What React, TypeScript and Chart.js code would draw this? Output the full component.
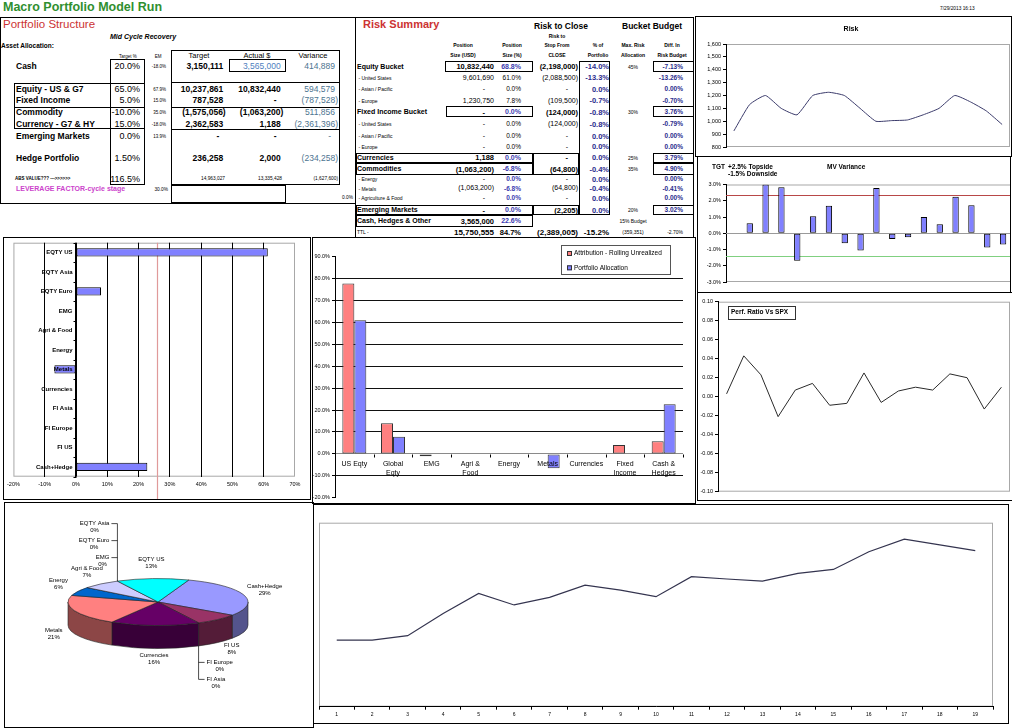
import React, { useEffect, useRef } from 'react';
import { Chart, registerables } from 'chart.js';
Chart.register(...registerables);

const FONT = '"Liberation Sans", Arial, Helvetica, sans-serif';
Chart.defaults.font.family = FONT;
Chart.defaults.color = '#000';

// ---------------- data ----------------
const RISK_VALUES = [925, 1130, 1200, 1100, 1050, 1200, 1225, 1200, 1100, 1000, 1005, 1010, 1050, 1100, 1200, 1150, 1080, 975];
const MV_VALUES: (number | null)[] = [null, 0.62, 3.0, 2.83, -1.69, 1.04, 1.69, -0.62, -1.06, 2.79, -0.35, -0.25, 1.0, 0.56, 2.25, 1.73, -0.87, -0.69];
const MV_TOPSIDE = 2.35;
const MV_DOWNSIDE = -1.42;
const PERF_VALUES = [0.003, 0.043, 0.023, -0.021, 0.007, 0.014, -0.009, -0.007, 0.025, -0.006, 0.006, 0.01, 0.007, 0.024, 0.02, -0.013, 0.01];
const HBAR_CATS = ['EQTY US', 'EQTY Asia', 'EQTY Euro', 'EMG', 'Agri & Food', 'Energy', 'Metals', 'Currencies', 'FI Asia', 'FI Europe', 'FI US', 'Cash+Hedge'];
const HBAR_VALUES = [61.3, 0, 8.0, 0, 0, 0, -6.9, 0, 0, 0, 0, 22.8];
const HBAR_REF = 26;
const GROUP_CATS = [['US Eqty'], ['Global', 'Eqty'], ['EMG'], ['Agri &', 'Food'], ['Energy'], ['Metals'], ['Currencies'], ['Fixed', 'Income'], ['Cash &', 'Hedges']];
const ATTRIB = [77.8, 14.0, -1.1, 0, 0, -0.3, 0, 4.0, 5.8];
const ALLOC = [61.0, 7.8, 0, 0, 0, -6.6, 0, 0, 22.7];
const PIE_LABELS = ['Cash+Hedge', 'FI US', 'FI Europe', 'FI Asia', 'Currencies', 'Metals', 'Energy', 'Agri & Food', 'EMG', 'EQTY Euro', 'EQTY Asia', 'EQTY US'];
const PIE_VALUES = [29, 8, 0, 0, 16, 21, 6, 7, 0, 0, 0, 13];
const TREND_VALUES = [36.2, 36.2, 38.6, 50.7, 61.6, 55.3, 59.4, 66.1, 63.4, 59.8, 70.7, 69.4, 68.3, 72.5, 74.6, 84.2, 91.1, 87.9, 84.8];

const STRUCT_LABELS = ['Cash', 'Equity - US & G7', 'Fixed Income', 'Commodity', 'Currency - G7 & HY', 'Emerging Markets', 'Hedge Portfolio'];
const STRUCT_TARGET_PCT = ['20.0%', '65.0%', '5.0%', '-10.0%', '15.0%', '0.0%', '1.50%'];
const STRUCT_EM = ['-18.0%', '67.9%', '15.0%', '35.0%', '-18.0%', '13.9%', ''];
const STRUCT_TARGET = ['3,150,111', '10,237,861', '787,528', '(1,575,056)', '2,362,583', '-', '236,258'];
const STRUCT_ACTUAL = ['3,565,000', '10,832,440', '-', '(1,063,200)', '1,188', '-', '2,000'];
const STRUCT_VARIANCE = ['414,889', '594,579', '(787,528)', '511,856', '(2,361,396)', '-', '(234,258)'];
const STRUCT_TOTALS = ['14,963,027', '13,335,428', '(1,627,600)'];

const RS_LABELS = ['Equity Bucket', ' - United States', ' - Asian / Pacific', ' - Europe', 'Fixed Income Bucket', ' - United States', ' - Asian / Pacific', ' - Europe', 'Currencies', 'Commodities', ' - Energy', ' - Metals', ' - Agriculture & Food', 'Emerging Markets', 'Cash, Hedges & Other', 'TTL -'];
const RS_SIZE_USD = ['10,832,440', '9,601,690', '-', '1,230,750', '-', '-', '-', '-', '1,188', '(1,063,200)', '-', '(1,063,200)', '-', '-', '3,565,000', '15,750,555'];
const RS_SIZE_PCT = ['68.8%', '61.0%', '0.0%', '7.8%', '0.0%', '0.0%', '0.0%', '0.0%', '0.0%', '-6.8%', '0.0%', '-6.8%', '0.0%', '0.0%', '22.6%', '84.7%'];
const RS_STOP = ['(2,198,000)', '(2,088,500)', '-', '(109,500)', '(124,000)', '(124,000)', '-', '-', '-', '(64,800)', '-', '(64,800)', '-', '(2,205)', '', '(2,389,005)'];
const RS_PCT_PORT = ['-14.0%', '-13.3%', '0.0%', '-0.7%', '-0.8%', '-0.8%', '0.0%', '0.0%', '0.0%', '-0.4%', '0.0%', '-0.4%', '0.0%', '0.0%', '', '-15.2%'];
const RS_MAX_RISK = ['45%', '', '', '', '30%', '', '', '', '25%', '35%', '', '', '', '20%', '15% Budget', '(359,351)'];
const RS_DIFF = ['-7.13%', '-13.26%', '0.00%', '-0.70%', '3.76%', '-0.79%', '0.00%', '0.00%', '3.79%', '4.90%', '0.00%', '-0.41%', '0.00%', '3.02%', '', '-2.70%'];

// ---------------- layout / style ----------------
const PIE_COLORS = ['#9999FF', '#993366', '#FFFFCC', '#CCFFFF', '#660066', '#FF8080', '#0066CC', '#CCCCFF', '#000080', '#FF00FF', '#FFFF00', '#00FFFF'];
const STRUCT_ROW_Y = [66, 89, 100, 112, 124, 136, 158];
const RS_ROW_Y = [66.7, 77.7, 89.3, 100.7, 112.3, 124.3, 136, 146.7, 157.7, 169, 179, 188.5, 198, 210, 221, 232.3];
const PIE_SQUASH = 0.26;
const PIE_DEPTH = 23;

const tf = (size: number, bold = false) => ({ family: FONT, size, weight: bold ? 'bold' : 'normal' });

const base = (pad: any) => ({
  animation: false,
  responsive: false,
  maintainAspectRatio: false,
  events: [],
  layout: { padding: pad },
  plugins: { legend: { display: false }, tooltip: { enabled: false }, title: { display: false } },
});

// ---------------- plugins ----------------
const framePlugin = (color: string) => ({
  id: 'frame',
  beforeDraw(chart: any) {
    const { ctx, chartArea: a } = chart;
    ctx.save();
    ctx.strokeStyle = color;
    ctx.lineWidth = 1;
    ctx.strokeRect(a.left + 0.5, a.top + 0.5, a.right - a.left - 1, a.bottom - a.top - 1);
    ctx.restore();
  },
});

type TextItem = { text: string; x: number; y: number; size: number; bold?: boolean; align?: CanvasTextAlign; color?: string };
const textPlugin = (items: TextItem[]) => ({
  id: 'texts',
  afterDraw(chart: any) {
    const ctx = chart.ctx;
    ctx.save();
    ctx.textBaseline = 'middle';
    items.forEach((t) => {
      ctx.font = `${t.bold ? 'bold ' : ''}${t.size}px ${FONT}`;
      ctx.fillStyle = t.color || '#000';
      ctx.textAlign = t.align || 'left';
      ctx.fillText(t.text, t.x, t.y);
    });
    ctx.restore();
  },
});

const hLinesPlugin = (lines: { value: number; color: string }[]) => ({
  id: 'hlines',
  beforeDatasetsDraw(chart: any) {
    const { ctx, chartArea: a, scales } = chart;
    ctx.save();
    ctx.lineWidth = 1.2;
    lines.forEach((l) => {
      const py = Math.round(scales.y.getPixelForValue(l.value)) + 0.5;
      ctx.strokeStyle = l.color;
      ctx.beginPath();
      ctx.moveTo(a.left, py);
      ctx.lineTo(a.right, py);
      ctx.stroke();
    });
    ctx.restore();
  },
});

const hbarAxisPlugin = {
  id: 'hbarAxis',
  beforeDatasetsDraw(chart: any) {
    const { ctx, chartArea: a, scales } = chart;
    const x0 = Math.round(scales.x.getPixelForValue(0)) + 0.5;
    const xr = Math.round(scales.x.getPixelForValue(HBAR_REF)) + 0.5;
    ctx.save();
    ctx.strokeStyle = '#e09a9a';
    ctx.lineWidth = 1.2;
    ctx.beginPath();
    ctx.moveTo(xr, a.top);
    ctx.lineTo(xr, chart.height);
    ctx.stroke();
    ctx.strokeStyle = '#000';
    ctx.lineWidth = 1;
    ctx.beginPath();
    ctx.moveTo(x0, a.top);
    ctx.lineTo(x0, a.bottom);
    const n = chart.data.labels.length;
    const step = (a.bottom - a.top) / n;
    for (let i = 0; i <= n; i++) {
      const py = Math.round(a.top + i * step) + 0.5;
      ctx.moveTo(x0 - 3, py);
      ctx.lineTo(x0, py);
    }
    ctx.stroke();
    ctx.restore();
  },
  afterDatasetsDraw(chart: any) {
    const { ctx, scales } = chart;
    const x0 = Math.round(scales.x.getPixelForValue(0)) + 0.5;
    ctx.save();
    ctx.font = `bold 6px ${FONT}`;
    ctx.fillStyle = '#000';
    ctx.textAlign = 'right';
    ctx.textBaseline = 'middle';
    chart.data.labels.forEach((l: string, i: number) => {
      ctx.fillText(l, x0 - 4, scales.y.getPixelForValue(i));
    });
    ctx.restore();
  },
};

const groupAxisPlugin = {
  id: 'groupAxis',
  beforeDatasetsDraw(chart: any) {
    const { ctx, chartArea: a, scales } = chart;
    const y0 = Math.round(scales.y.getPixelForValue(0)) + 0.5;
    ctx.save();
    ctx.strokeStyle = '#000';
    ctx.lineWidth = 1;
    const n = GROUP_CATS.length;
    const step = (a.right - a.left) / n;
    ctx.beginPath();
    for (let i = 0; i <= n; i++) {
      const px = Math.round(a.left + i * step) + 0.5;
      ctx.moveTo(px, y0);
      ctx.lineTo(px, y0 + 3);
    }
    ctx.stroke();
    ctx.restore();
  },
  afterDatasetsDraw(chart: any) {
    const { ctx, scales } = chart;
    const y0 = Math.round(scales.y.getPixelForValue(0)) + 0.5;
    ctx.save();
    ctx.font = `7px ${FONT}`;
    ctx.fillStyle = '#000';
    ctx.textAlign = 'center';
    ctx.textBaseline = 'middle';
    GROUP_CATS.forEach((lines, i) => {
      const px = scales.x.getPixelForValue(i);
      lines.forEach((t, k) => ctx.fillText(t, px, y0 + 10 + k * 8.5));
    });
    ctx.restore();
  },
};

const groupLegendPlugin = {
  id: 'groupLegend',
  afterDraw(chart: any) {
    const ctx = chart.ctx;
    const x = 249, y = 8, w = 109, h = 29;
    ctx.save();
    ctx.fillStyle = '#fff';
    ctx.fillRect(x, y, w, h);
    ctx.strokeStyle = '#555';
    ctx.lineWidth = 1;
    ctx.strokeRect(x + 0.5, y + 0.5, w, h);
    ctx.font = `6.5px ${FONT}`;
    ctx.textBaseline = 'middle';
    chart.data.datasets.forEach((ds: any, i: number) => {
      const cy = y + 8.5 + i * 14.3;
      ctx.fillStyle = ds.backgroundColor;
      ctx.fillRect(x + 6, cy - 2.5, 5, 5);
      ctx.strokeStyle = '#333';
      ctx.strokeRect(x + 6.5, cy - 2, 4, 4);
      ctx.fillStyle = '#000';
      ctx.textAlign = 'left';
      ctx.fillText(ds.label, x + 13, cy);
    });
    ctx.restore();
  },
};

const perfBoxPlugin = {
  id: 'perfBox',
  afterDraw(chart: any) {
    const ctx = chart.ctx;
    ctx.save();
    ctx.fillStyle = '#fff';
    ctx.fillRect(30, 13, 67, 13);
    ctx.strokeStyle = '#333';
    ctx.lineWidth = 1;
    ctx.strokeRect(30.5, 13.5, 67, 13);
    ctx.font = `bold 6.5px ${FONT}`;
    ctx.fillStyle = '#000';
    ctx.textBaseline = 'middle';
    ctx.fillText('Perf. Ratio Vs SPX', 33, 19.5);
    ctx.restore();
  },
};

const darken = (hex: string, f: number) => {
  const n = parseInt(hex.slice(1), 16);
  return `rgb(${Math.round(((n >> 16) & 255) * f)},${Math.round(((n >> 8) & 255) * f)},${Math.round((n & 255) * f)})`;
};

const pie3dPlugin = {
  id: 'pie3d',
  beforeDatasetsDraw(chart: any) {
    const ctx = chart.ctx;
    const arcs = chart.getDatasetMeta(0).data as any[];
    if (!arcs.length) return false;
    const cx = arcs[0].x, cy = arcs[0].y, rx = arcs[0].outerRadius, ry = rx * PIE_SQUASH;
    const colors = chart.data.datasets[0].backgroundColor as string[];
    const values = chart.data.datasets[0].data as number[];
    const labels = chart.data.labels as string[];
    const total = values.reduce((s, v) => s + v, 0);
    ctx.save();
    ctx.lineWidth = 0.6;
    ctx.strokeStyle = '#222';
    // side walls
    arcs.forEach((arc, i) => {
      const s = arc.startAngle, e = arc.endAngle;
      if (e - s <= 1e-6) return;
      for (let k = -2; k <= 2; k++) {
        const a0 = Math.max(s, 2 * Math.PI * k), b0 = Math.min(e, 2 * Math.PI * k + Math.PI);
        if (b0 - a0 <= 1e-6) continue;
        ctx.beginPath();
        ctx.ellipse(cx, cy, rx, ry, 0, a0, b0, false);
        ctx.lineTo(cx + rx * Math.cos(b0), cy + ry * Math.sin(b0) + PIE_DEPTH);
        ctx.ellipse(cx, cy + PIE_DEPTH, rx, ry, 0, b0, a0, true);
        ctx.closePath();
        ctx.fillStyle = darken(colors[i], 0.55);
        ctx.fill();
        ctx.stroke();
      }
    });
    // top faces
    arcs.forEach((arc, i) => {
      const s = arc.startAngle, e = arc.endAngle;
      if (e - s <= 1e-6) return;
      ctx.beginPath();
      ctx.moveTo(cx, cy);
      ctx.ellipse(cx, cy, rx, ry, 0, s, e, false);
      ctx.closePath();
      ctx.fillStyle = colors[i];
      ctx.fill();
      ctx.stroke();
    });
    // labels
    ctx.font = `6px ${FONT}`;
    ctx.fillStyle = '#000';
    ctx.textBaseline = 'middle';
    ctx.textAlign = 'center';
    let i = 0;
    while (i < arcs.length) {
      if (values[i] > 0) {
        const m = (arcs[i].startAngle + arcs[i].endAngle) / 2;
        const sn = Math.sin(m);
        const lx = cx + (rx + 22) * Math.cos(m);
        const ly = cy + (ry + 16) * sn + (sn > 0 ? PIE_DEPTH * 0.75 : 0);
        ctx.fillText(labels[i], lx, ly - 3.5);
        ctx.fillText(`${Math.round((values[i] / total) * 100)}%`, lx, ly + 3.5);
        i++;
      } else {
        let j = i;
        while (j < arcs.length && values[j] === 0) j++;
        const a = arcs[i].startAngle;
        const sn = Math.sin(a), cs = Math.cos(a);
        const ax = cx + rx * cs;
        const ay = cy + ry * sn + (sn > 0 ? PIE_DEPTH : 0);
        const dir = sn < 0 ? -1 : 1;
        const side = cs < 0 ? -1 : 1;
        let lastY = ay;
        ctx.strokeStyle = '#000';
        ctx.lineWidth = 0.7;
        for (let k = i; k < j; k++) {
          const ly = ay + dir * (20 + (k - i) * 17);
          lastY = ly - 3.5;
          const w = ctx.measureText(labels[k]).width;
          const tx = ax + side * (8 + w / 2);
          ctx.fillText(labels[k], tx, ly - 3.5);
          ctx.fillText(`${Math.round((values[k] / total) * 100)}%`, tx, ly + 3.5);
          ctx.beginPath();
          ctx.moveTo(ax, ly - 3.5);
          ctx.lineTo(ax + side * 6, ly - 3.5);
          ctx.stroke();
        }
        ctx.beginPath();
        ctx.moveTo(ax, ay);
        ctx.lineTo(ax, lastY);
        ctx.stroke();
        i = j;
      }
    }
    ctx.restore();
    return false;
  },
};

// ---------------- chart configs ----------------
const yAxis = (min: number, max: number, step: number, fmt: (v: number) => string, width: number, extra: any = {}) => ({
  min,
  max,
  ticks: { stepSize: step, font: tf(5.5), color: '#000', padding: 2, callback: (v: any) => fmt(Number(v)) },
  grid: { drawOnChartArea: false, tickLength: 3, color: '#000' },
  border: { color: '#000' },
  afterFit: (s: any) => {
    s.width = width;
  },
  ...extra,
});

const riskConfig = () => ({
  type: 'line',
  data: {
    labels: RISK_VALUES.map((_, i) => String(i + 1)),
    datasets: [{ data: RISK_VALUES, borderColor: '#3b3b6b', borderWidth: 1, pointRadius: 0, tension: 0.15, fill: false }],
  },
  options: {
    ...base({ left: 1, right: 1, top: 27, bottom: 8 }),
    scales: {
      x: { display: false, offset: true },
      y: yAxis(800, 1600, 100, (v) => v.toLocaleString('en-US'), 29),
    },
  },
  plugins: [framePlugin('#a8a8a8'), textPlugin([{ text: 'Risk', x: 155, y: 12, size: 7, bold: true, align: 'center' }])],
});

const mvConfig = () => ({
  type: 'bar',
  data: {
    labels: MV_VALUES.map((_, i) => String(i + 1)),
    datasets: [{ data: MV_VALUES, backgroundColor: '#8080ff', borderColor: '#000', borderWidth: 1, borderSkipped: false, barPercentage: 0.4, categoryPercentage: 1 }],
  },
  options: {
    ...base({ left: 0, right: 1, top: 28.5, bottom: 10 }),
    scales: {
      x: { display: false },
      y: yAxis(-3, 3, 1, (v) => v.toFixed(1) + '%', 29),
    },
  },
  plugins: [
    framePlugin('#a8a8a8'),
    hLinesPlugin([
      { value: 0, color: '#9a9a9a' },
      { value: MV_TOPSIDE, color: '#b84848' },
      { value: MV_DOWNSIDE, color: '#80d080' },
    ]),
    textPlugin([
      { text: 'TGT', x: 15, y: 11, size: 6.5, bold: true },
      { text: '+2.5% Topside', x: 31, y: 11, size: 6.5, bold: true },
      { text: '-1.5% Downside', x: 31, y: 18.5, size: 6.5, bold: true },
      { text: 'MV Variance', x: 130, y: 11, size: 6.5, bold: true },
    ]),
  ],
});

const perfConfig = () => ({
  type: 'line',
  data: {
    labels: PERF_VALUES.map((_, i) => String(i + 1)),
    datasets: [{ data: PERF_VALUES, borderColor: '#2a2a2a', borderWidth: 1, pointRadius: 0, tension: 0, fill: false }],
  },
  options: {
    ...base({ left: 0, right: 2, top: 8.7, bottom: 8.3 }),
    scales: {
      x: { display: false, offset: true },
      y: yAxis(-0.1, 0.1, 0.02, (v) => (Math.abs(v) < 1e-9 ? 0 : v).toFixed(2), 20),
    },
  },
  plugins: [framePlugin('#a8a8a8'), perfBoxPlugin],
});

const hbarConfig = () => ({
  type: 'bar',
  data: {
    labels: HBAR_CATS,
    datasets: [{ data: HBAR_VALUES, backgroundColor: '#8080ff', borderColor: '#000', borderWidth: 1, borderSkipped: false, barPercentage: 0.42, categoryPercentage: 1 }],
  },
  options: {
    ...base({ left: 10.3, right: 15, top: 5.7, bottom: 9.3 }),
    indexAxis: 'y',
    scales: {
      x: {
        min: -20,
        max: 70,
        ticks: { stepSize: 10, font: tf(5.5), color: '#000', padding: 4, callback: (v: any) => `${v}%` },
        grid: { color: (c: any) => (c.tick && (c.tick.value === -20 || c.tick.value === 70) ? 'rgba(0,0,0,0)' : '#000'), drawTicks: false },
        border: { display: false },
        afterFit: (s: any) => {
          s.height = 13;
        },
      },
      y: { display: false },
    },
  },
  plugins: [framePlugin('#a8a8a8'), hbarAxisPlugin],
});

const groupConfig = () => ({
  type: 'bar',
  data: {
    labels: GROUP_CATS.map((l) => l.join(' ')),
    datasets: [
      { label: 'Attribution - Rolling Unrealized', data: ATTRIB, backgroundColor: '#ff8080', borderColor: '#333', borderWidth: 1, borderSkipped: false },
      { label: 'Portfolio Allocation', data: ALLOC, backgroundColor: '#8080ff', borderColor: '#333', borderWidth: 1, borderSkipped: false },
    ],
  },
  options: {
    ...base({ left: 0, right: 12, top: 19.7, bottom: 5.3 }),
    datasets: { bar: { categoryPercentage: 0.62, barPercentage: 1 } },
    scales: {
      x: { display: false },
      y: yAxis(-20, 90, 10, (v) => v.toFixed(1) + '%', 23, {
        grid: {
          drawOnChartArea: true,
          tickLength: 3,
          tickColor: '#000',
          color: (c: any) => {
            const v = c.tick ? c.tick.value : null;
            if (v === 0) return '#8a8a8a';
            if (v === 90 || v === -20) return 'rgba(0,0,0,0)';
            return '#111';
          },
        },
      }),
    },
  },
  plugins: [groupAxisPlugin, groupLegendPlugin],
});

const trendConfig = () => ({
  type: 'line',
  data: {
    labels: TREND_VALUES.map((_, i) => String(i + 1)),
    datasets: [{ data: TREND_VALUES, borderColor: '#34344f', borderWidth: 1.2, pointRadius: 0, tension: 0, fill: false }],
  },
  options: {
    ...base({ left: 5, right: 15, top: 18.7, bottom: 6.3 }),
    scales: {
      x: {
        offset: true,
        ticks: { font: tf(5), color: '#000', padding: 2, maxRotation: 0, autoSkip: false },
        grid: { offset: true, drawOnChartArea: false, tickLength: 3, color: '#000' },
        border: { color: '#000' },
        afterFit: (s: any) => {
          s.height = 10;
        },
      },
      y: { display: false, min: 0, max: 100 },
    },
  },
  plugins: [framePlugin('#a8a8a8')],
});

const pieConfig = () => ({
  type: 'pie',
  data: { labels: PIE_LABELS, datasets: [{ data: PIE_VALUES, backgroundColor: PIE_COLORS, borderWidth: 0 }] },
  options: { ...base({ left: 64, right: 65, top: 10, bottom: 35 }), rotation: 20 },
  plugins: [pie3dPlugin],
});

// ---------------- components ----------------
function ChartCanvas({ x, y, w, h, make }: { x: number; y: number; w: number; h: number; make: () => any }) {
  const ref = useRef<HTMLCanvasElement | null>(null);
  useEffect(() => {
    if (!ref.current) return;
    const c = new Chart(ref.current, make());
    return () => c.destroy();
  }, []);
  return (
    <div style={{ position: 'absolute', left: x, top: y, width: w, height: h }}>
      <canvas ref={ref} width={w} height={h} style={{ display: 'block', width: w, height: h }} />
    </div>
  );
}

type TP = { x: number; y: number; s: number; t: string; b?: boolean; i?: boolean; c?: string; a?: 'l' | 'r' | 'c' };
function Txt({ x, y, s, t, b, i, c, a = 'l' }: TP) {
  const W = 300;
  const left = a === 'l' ? x : a === 'r' ? x - W : x - W / 2;
  return (
    <div
      style={{
        position: 'absolute',
        left,
        top: y - s * 0.6,
        width: W,
        textAlign: a === 'l' ? 'left' : a === 'r' ? 'right' : 'center',
        fontSize: s,
        lineHeight: `${s * 1.2}px`,
        fontWeight: b ? 700 : 400,
        fontStyle: i ? 'italic' : 'normal',
        color: c || '#000',
        whiteSpace: 'pre',
        fontFamily: FONT,
      }}
    >
      {t}
    </div>
  );
}

function Box({ r, w = 1 }: { r: number[]; w?: number }) {
  const [x1, y1, x2, y2] = r;
  return (
    <div
      style={{
        position: 'absolute',
        left: x1,
        top: y1,
        width: Math.max(x2 - x1, w),
        height: Math.max(y2 - y1, w),
        border: y2 === y1 ? 'none' : `${w}px solid #000`,
        borderTop: `${w}px solid #000`,
        boxSizing: 'border-box',
      }}
    />
  );
}

const PANEL_FRAMES = [
  [0, 17, 356, 204],
  [355, 17, 694, 238],
  [695, 16, 1012, 157],
  [697, 156, 1011, 293],
  [697, 292, 1013, 501],
  [3, 237, 311, 500],
  [312, 237, 696, 504],
  [4, 502, 314, 728],
  [313, 504, 1009, 724],
];
const TABLE_BOXES = [
  [110, 59, 145, 185],
  [14, 83, 145, 129],
  [14, 107, 145, 107],
  [171, 50, 340, 185],
  [171, 82, 340, 82],
  [171, 107, 340, 107],
  [171, 129, 340, 129],
  [229, 59, 286, 72],
  [171, 185, 286, 203],
  [445, 61, 533, 72],
  [579, 61, 610, 215],
  [653, 61, 694, 72],
  [446, 106, 533, 117],
  [653, 106, 694, 117],
  [356, 152.7, 533, 163.3],
  [356, 163.3, 533, 174.7],
  [533, 152.7, 579, 174.7],
  [653, 152.7, 694, 163.3],
  [653, 163.3, 694, 174.7],
  [356, 204.7, 533, 215.3],
  [533, 204.7, 579, 215.3],
  [653, 204.7, 694, 215.3],
  [356, 215.3, 533, 226.7],
];

const rightX = (x: number, t: string, paren: number) => (t === '-' ? x - 4 : t.endsWith(')') ? x + paren : x);

function StructurePanel() {
  const out: React.ReactNode[] = [];
  out.push(<Txt key="pt" x={3} y={25} s={11.5} t="Portfolio Structure" c="#cc3333" />);
  out.push(<Txt key="mc" x={110} y={37} s={7} b i t="Mid Cycle Recovery" />);
  out.push(<Txt key="aa" x={1} y={46} s={6.5} b t="Asset Allocation:" />);
  out.push(<Txt key="h1" x={128} y={57} s={4.5} a="c" t="Target %" />);
  out.push(<Txt key="h2" x={158} y={57} s={4.5} a="c" t="EM" />);
  out.push(<Txt key="h3" x={199} y={55} s={7.5} a="c" t="Target" />);
  out.push(<Txt key="h4" x={257} y={55} s={7.5} a="c" t="Actual $" />);
  out.push(<Txt key="h5" x={313} y={55} s={7.5} a="c" t="Variance" />);
  STRUCT_LABELS.forEach((l, i) => {
    const y = STRUCT_ROW_Y[i];
    out.push(<Txt key={'l' + i} x={16} y={y} s={8.5} b t={l} />);
    out.push(<Txt key={'p' + i} x={140} y={y} s={9} a="r" t={STRUCT_TARGET_PCT[i]} />);
    if (STRUCT_EM[i]) out.push(<Txt key={'e' + i} x={166} y={y + 1} s={4.5} a="r" t={STRUCT_EM[i]} />);
    out.push(<Txt key={'t' + i} x={rightX(223.3, STRUCT_TARGET[i], 2.4)} y={y} s={8.5} b a="r" t={STRUCT_TARGET[i]} />);
    out.push(
      <Txt key={'a' + i} x={rightX(280.7, STRUCT_ACTUAL[i], 2.6)} y={y} s={8.5} b={i !== 0} a="r" t={STRUCT_ACTUAL[i]} c={i === 0 ? '#4f7fc0' : '#000'} />
    );
    out.push(<Txt key={'v' + i} x={rightX(335, STRUCT_VARIANCE[i], 3)} y={y} s={8.5} a="r" t={STRUCT_VARIANCE[i]} c="#4d7490" />);
  });
  out.push(<Txt key="abs" x={15} y={179} s={4.5} b t="ABS VALUE??? --->>>>>>" />);
  out.push(<Txt key="abp" x={140} y={179} s={9} a="r" t="116.5%" />);
  out.push(<Txt key="tt0" x={225} y={179} s={4.8} a="r" t={STRUCT_TOTALS[0]} />);
  out.push(<Txt key="tt1" x={282} y={179} s={4.8} a="r" t={STRUCT_TOTALS[1]} />);
  out.push(<Txt key="tt2" x={338} y={179} s={4.8} a="r" t={STRUCT_TOTALS[2]} />);
  out.push(<Txt key="lev" x={16} y={189.5} s={7} b t="LEVERAGE FACTOR-cycle stage" c="#cc44cc" />);
  out.push(<Txt key="lvp" x={168} y={190} s={4.8} a="r" t="30.0%" />);
  out.push(<Txt key="zp" x={353} y={198} s={4.8} a="r" t="0.0%" />);
  return <>{out}</>;
}

function RiskPanel() {
  const out: React.ReactNode[] = [];
  out.push(<Txt key="rs" x={363} y={25} s={11} b t="Risk Summary" c="#cc3333" />);
  out.push(<Txt key="rc" x={561} y={26} s={8.5} b a="c" t="Risk to Close" />);
  out.push(<Txt key="bb" x={652} y={26} s={8.5} b a="c" t="Bucket Budget" />);
  const heads: [number, string[], number[]][] = [
    [463, ['Position', 'Size (USD)'], [45, 55]],
    [512, ['Position', 'Size (%)'], [45, 55]],
    [557, ['Risk to', 'Stop From', 'CLOSE'], [35.5, 45, 55]],
    [598, ['% of', 'Portfolio'], [45, 55]],
    [633, ['Max. Risk', 'Allocation'], [45, 55]],
    [672, ['Diff. In', 'Risk Budget'], [45, 55]],
  ];
  heads.forEach(([x, ts, ys], k) => ts.forEach((t, j) => out.push(<Txt key={`h${k}_${j}`} x={x} y={ys[j]} s={5} b a="c" t={t} />)));
  const navy = '#2b2b8c';
  RS_LABELS.forEach((l, i) => {
    const y = RS_ROW_Y[i];
    const sub = l.startsWith(' - ');
    const ttl = l.startsWith('TTL');
    const bucket = !sub && !ttl;
    out.push(<Txt key={'l' + i} x={357} y={y} s={bucket ? 7 : 5} b={bucket} t={l} />);
    const numS = ttl ? 8 : bucket ? 7.5 : 7;
    out.push(<Txt key={'c1' + i} x={RS_SIZE_USD[i] === '-' ? 485 : 494} y={y} s={numS} b={!sub} a="r" t={RS_SIZE_USD[i]} />);
    const pctBlue = !ttl && !(sub && i < 8);
    out.push(<Txt key={'c2' + i} x={521} y={y} s={ttl ? 7.5 : bucket ? 7 : 6.5} b={!sub || pctBlue} a="r" t={RS_SIZE_PCT[i]} c={pctBlue ? '#3b3bb0' : '#000'} />);
    out.push(<Txt key={'c3' + i} x={RS_STOP[i] === '-' ? 568 : 578} y={y} s={numS} b={!sub} a="r" t={RS_STOP[i]} />);
    out.push(<Txt key={'c4' + i} x={609} y={y} s={ttl ? 8 : 7.5} b a="r" t={RS_PCT_PORT[i]} c={ttl ? '#000' : navy} />);
    out.push(<Txt key={'c5' + i} x={633} y={y} s={5} a="c" t={RS_MAX_RISK[i]} />);
    out.push(<Txt key={'c6' + i} x={683} y={y} s={ttl ? 5 : 6.5} b={!ttl} a="r" t={RS_DIFF[i]} c={ttl ? '#000' : navy} />);
  });
  return <>{out}</>;
}

export default function App() {
  return (
    <div style={{ position: 'absolute', left: 0, top: 0, width: 1012, height: 728, overflow: 'hidden', background: '#fff', fontFamily: FONT }}>
      <Txt x={3} y={7} s={12.5} b t="Macro Portfolio Model Run" c="#2f8f2f" />
      <Txt x={940} y={9} s={4.8} t="7/29/2013 16:13" />
      {TABLE_BOXES.map((r, i) => (
        <Box key={'tb' + i} r={r} w={1} />
      ))}
      <StructurePanel />
      <RiskPanel />
      <ChartCanvas x={696} y={17} w={315} h={138} make={riskConfig} />
      <ChartCanvas x={697} y={156} w={315} h={136} make={mvConfig} />
      <ChartCanvas x={698} y={293} w={314} h={207} make={perfConfig} />
      <ChartCanvas x={3} y={237} w={307} h={262} make={hbarConfig} />
      <ChartCanvas x={312} y={237} w={383} h={266} make={groupConfig} />
      <ChartCanvas x={4} y={502} w={309} h={225} make={pieConfig} />
      <ChartCanvas x={314} y={504} w={694} h={219} make={trendConfig} />
      {PANEL_FRAMES.map((r, i) => (
        <Box key={'pf' + i} r={r} w={1.5} />
      ))}
    </div>
  );
}
